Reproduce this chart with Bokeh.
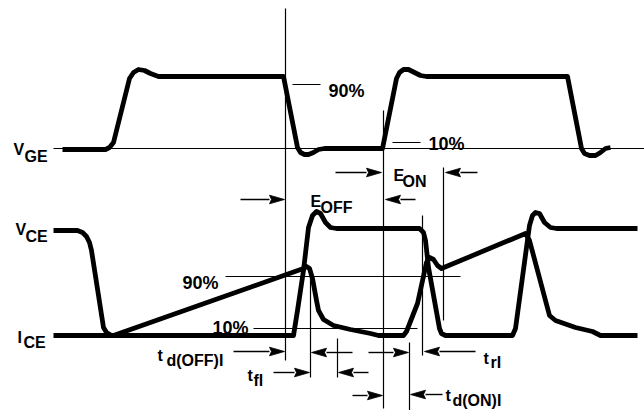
from bokeh.plotting import figure
from bokeh.models import Range1d
from bokeh.core.properties import value
from bokeh.embed import file_html
from bokeh.resources import INLINE

# ---- waveform traces (diagram coordinates, y grows downward) ----
vge_x = [62, 105, 109, 113, 129, 133, 138, 144, 150, 158, 283, 297, 300, 304, 308, 313, 318, 324,
         382, 396, 399, 403, 408, 414, 420, 426, 567, 581, 584, 589, 595, 600, 605, 610]
vge_y = [149, 149, 147, 142, 78, 72, 69, 70, 73, 76, 76, 147, 152, 154, 154, 152, 149, 148,
         148, 78, 72, 69, 69, 72, 75, 76, 76, 148, 153, 155, 155, 152, 148, 147]

vce_x = [53, 77, 82, 86, 89, 91, 103, 106, 111, 293, 297, 303, 308, 312, 316, 320, 325, 330, 336,
         419, 423, 425, 428, 439, 441, 445, 512, 515, 529, 532, 535, 539, 544, 550, 556, 637]
vce_y = [230, 230, 232, 236, 242, 250, 327, 332, 335, 335, 310, 270, 227, 215, 211, 213, 222, 227, 228,
         228, 232, 240, 267, 328, 333, 335, 335, 328, 225, 215, 212, 213, 222, 227, 228, 228]

ice_x = [53, 113, 303, 306, 309, 312, 316, 318, 323, 333, 350, 370, 378, 403, 406, 417, 426, 429,
         433, 437, 441, 525, 529, 549, 555, 575, 592, 600, 637]
ice_y = [335, 335, 268, 266, 268, 278, 300, 310, 319, 325, 329, 333, 335, 335, 331, 303, 262, 257,
         259, 265, 268, 233, 240, 315, 320, 327, 331, 335, 335]

# ---- thin reference lines ----
hline_y = [148, 84, 142, 276, 328]
hline_x0 = [53, 292, 392, 225, 253]
hline_x1 = [644, 320, 420, 460, 417]

vline_x = [285, 383, 443, 422, 310, 337, 409]
vline_y0 = [8, 110, 167, 215, 276, 338, 342]
vline_y1 = [360, 408, 320, 355, 377, 377, 410]

# ---- dimension arrows: tail x, tip x, y ----
arr_tail = [335, 477, 240, 415, 233, 352, 273, 368, 368, 352, 442, 475]
arr_tip = [381, 445, 284, 385, 284, 311, 309, 338, 408, 382, 410, 424]
arr_y = [172, 172, 199, 199, 351, 352, 372, 372, 352, 395, 394, 351]

# ---- labels ----
main_text = ["V", "V", "I", "E", "E", "t", "t", "t", "t"]
main_x = [13, 15, 17, 393, 310, 157, 247, 483, 445]
main_y = [149, 229, 337, 175, 201, 355, 375, 358, 395]
sub_text = ["GE", "CE", "CE", "ON", "OFF", "d(OFF)I", "fl", "rI", "d(ON)I"]
sub_x = [24, 25, 23, 402, 320, 166, 253, 490, 452]
sub_y = [156, 236, 342, 181, 207, 360, 380, 362, 400]
pct_text = ["90%", "10%", "90%", "10%"]
pct_x = [328, 428, 182, 212]
pct_y = [90, 143, 282, 327]

p = figure(width=644, height=410, x_range=Range1d(0, 644), y_range=Range1d(410, 0),
           output_backend="svg", toolbar_location=None, min_border=0,
           x_axis_type=None, y_axis_type=None)
p.grid.visible = False
p.outline_line_color = None
p.background_fill_color = "white"
p.border_fill_color = "white"

# thin lines
p.segment(x0=hline_x0, y0=hline_y, x1=hline_x1, y1=hline_y, line_color="black", line_width=1.2)
p.segment(x0=vline_x, y0=vline_y0, x1=vline_x, y1=vline_y1, line_color="black", line_width=1.2)

# waveforms
for xs, ys in [(vge_x, vge_y), (vce_x, vce_y), (ice_x, ice_y)]:
    p.line(xs, ys, line_color="black", line_width=4.8, line_join="round", line_cap="butt")

# arrows
L, W = 15, 4.3
shaft_x0, shaft_x1, heads_x, heads_y = [], [], [], []
for t, h, y in zip(arr_tail, arr_tip, arr_y):
    d = 1 if h > t else -1
    base = h - d * L
    shaft_x0.append(t)
    shaft_x1.append(base)
    heads_x.append([h, base, base + d * 2, base])
    heads_y.append([y, y - W, y, y + W])
p.segment(x0=shaft_x0, y0=arr_y, x1=shaft_x1, y1=arr_y, line_color="black", line_width=1.4)
p.patches(heads_x, heads_y, fill_color="black", line_color="black", line_width=0.8)

font = value("Liberation Sans")
p.text(x=main_x, y=main_y, text=main_text, text_font=font, text_font_style="bold",
       text_font_size="16px", text_baseline="alphabetic", text_align="left", text_color="black")
p.text(x=sub_x, y=sub_y, text=sub_text, text_font=font, text_font_style="bold",
       text_font_size="16px", text_baseline="alphabetic", text_align="left", text_color="black")
p.text(x=pct_x, y=pct_y, text=pct_text, text_font=font, text_font_style="bold",
       text_font_size="18px", text_baseline="alphabetic", text_align="left", text_color="black")

open("out.html", "w").write(file_html(p, INLINE))
